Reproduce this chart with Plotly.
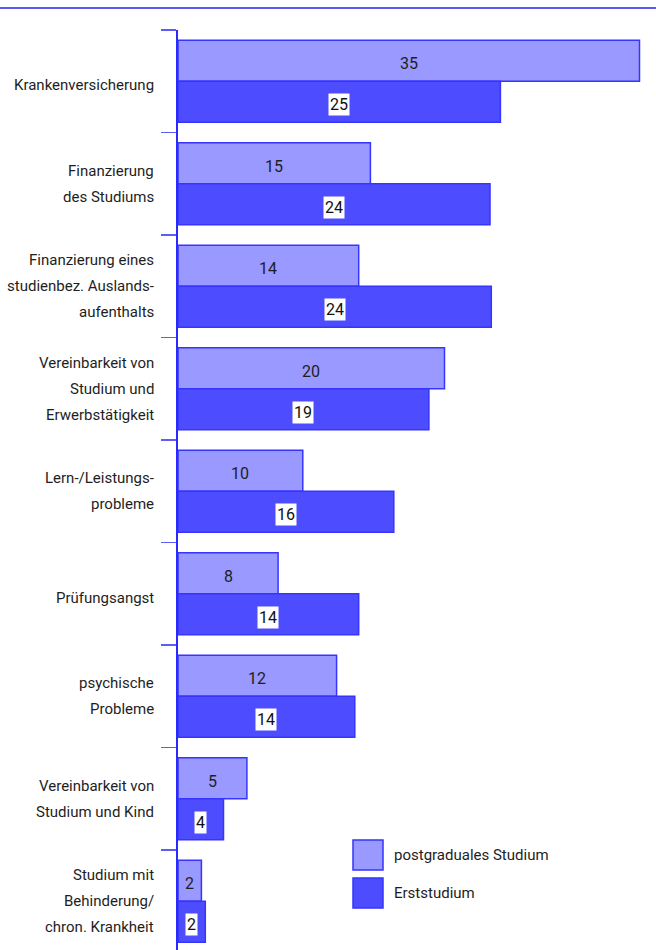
import plotly.graph_objects as go

# ---- data ----
categories = [
    "Krankenversicherung",
    "Finanzierung<br>des Studiums",
    "Finanzierung eines<br>studienbez. Auslands-<br>aufenthalts",
    "Vereinbarkeit von<br>Studium und<br>Erwerbstätigkeit",
    "Lern-/Leistungs-<br>probleme",
    "Prüfungsangst",
    "psychische<br>Probleme",
    "Vereinbarkeit von<br>Studium und Kind",
    "Studium mit<br>Behinderung/<br>chron. Krankheit",
]
series_names = ["postgraduales Studium", "Erststudium"]
postgrad_values = [35.5, 14.8, 13.9, 20.5, 9.6, 7.7, 12.2, 5.3, 1.8]
erst_values = [24.8, 24.0, 24.1, 19.3, 16.6, 13.9, 13.6, 3.5, 2.1]
postgrad_labels = ["35", "15", "14", "20", "10", "8", "12", "5", "2"]
erst_labels = ["25", "24", "24", "19", "16", "14", "14", "4", "2"]

# ---- style ----
W, H = 656, 950
ML, MT = 178, 30
PW, PH = W - ML, H - MT
BAND = 102.5
PX_PER_UNIT = 13.0
FONT = "Roboto, 'Liberation Sans', sans-serif"
FS = 15
FS_VAL = 16
LINE_H = 26
TXT = "#1e1e1e"
PG_FILL, ER_FILL = "#9999ff", "#4d4dff"
EDGE = "#3535ff"

n = len(categories)
ypos = list(range(n))

fig = go.Figure()
fig.add_trace(go.Bar(
    y=ypos, x=postgrad_values, orientation="h", name=series_names[0],
    width=0.4, offset=-0.4,
    marker=dict(color=PG_FILL, line=dict(color=EDGE, width=1.5)),
    hoverinfo="skip",
))
fig.add_trace(go.Bar(
    y=ypos, x=erst_values, orientation="h", name=series_names[1],
    width=0.4, offset=0.0,
    marker=dict(color=ER_FILL, line=dict(color=EDGE, width=1.5)),
    hoverinfo="skip",
))

annotations = []
for i in range(n):
    annotations.append(dict(
        x=postgrad_values[i] / 2, y=i - 0.2, xref="x", yref="y",
        text=postgrad_labels[i], showarrow=False, yshift=-3,
        font=dict(family=FONT, size=FS_VAL, color=TXT),
        xanchor="center", yanchor="middle",
    ))
    annotations.append(dict(
        x=erst_values[i] / 2, y=i + 0.2, xref="x", yref="y",
        text=erst_labels[i], showarrow=False, bgcolor="white", borderpad=1,
        yshift=-3,
        font=dict(family=FONT, size=FS_VAL, color="#111111"),
        xanchor="center", yanchor="middle",
    ))
    lines = categories[i].split("<br>")
    k = len(lines)
    for j, ln in enumerate(lines):
        annotations.append(dict(
            x=(156 - ML) / PW, y=i, xref="paper", yref="y",
            text=ln, showarrow=False, align="right",
            yshift=-(j - (k - 1) / 2) * LINE_H - (4 if k == 1 else 0),
            font=dict(family=FONT, size=FS, color=TXT),
            xanchor="right", yanchor="middle",
        ))


def px_x(p):
    return (p - ML) / PW


def px_y(p):
    return (H - p) / PH


# legend (manual, large squares)
leg_fills = [PG_FILL, ER_FILL]
leg_tops = [840, 878]
shapes = []
for k in range(2):
    shapes.append(dict(
        type="rect", xref="paper", yref="paper",
        x0=px_x(353), x1=px_x(383), y0=px_y(leg_tops[k]), y1=px_y(leg_tops[k] + 30),
        fillcolor=leg_fills[k], line=dict(color=EDGE, width=1.5),
    ))
    annotations.append(dict(
        x=px_x(392), y=px_y(leg_tops[k] + 15), xref="paper", yref="paper",
        text=series_names[k], showarrow=False,
        font=dict(family=FONT, size=FS, color=TXT),
        xanchor="left", yanchor="middle",
    ))

# top rule
shapes.append(dict(
    type="line", xref="paper", yref="paper",
    x0=px_x(0), x1=px_x(W), y0=px_y(8), y1=px_y(8),
    line=dict(color="#5a5af0", width=2),
))

fig.update_layout(
    width=W, height=H,
    margin=dict(l=ML, r=0, t=MT, b=0),
    paper_bgcolor="white", plot_bgcolor="white",
    showlegend=False,
    annotations=annotations, shapes=shapes,
    xaxis=dict(range=[0, PW / PX_PER_UNIT], showgrid=False, zeroline=False,
               showticklabels=False, ticks="", showline=False, fixedrange=True),
    yaxis=dict(range=[-0.5 + PH / BAND, -0.5], showgrid=False, zeroline=False,
               tickvals=[i - 0.5 for i in range(n)], ticktext=[""] * n,
               ticks="outside", ticklen=15, tickwidth=1.5, tickcolor="#5c5cff",
               showline=True, linecolor="#2a2aff", linewidth=2, fixedrange=True),
)

fig.write_html(
    "out.html",
    config={"displayModeBar": False, "staticPlot": True},
    post_script="document.body.style.margin='0';document.body.style.overflow='hidden';",
)
